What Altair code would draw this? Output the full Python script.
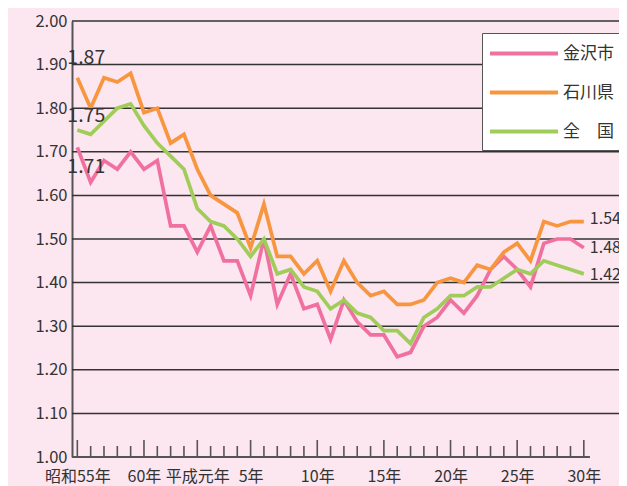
import altair as alt
import pandas as pd

years = list(range(1980, 2019))
kanazawa = [1.71, 1.63, 1.68, 1.66, 1.70, 1.66, 1.68, 1.53, 1.53, 1.47,
            1.53, 1.45, 1.45, 1.37, 1.50, 1.35, 1.42, 1.34, 1.35, 1.27,
            1.36, 1.31, 1.28, 1.28, 1.23, 1.24, 1.30, 1.32, 1.36, 1.33,
            1.37, 1.43, 1.46, 1.43, 1.39, 1.49, 1.50, 1.50, 1.48]
ishikawa = [1.87, 1.80, 1.87, 1.86, 1.88, 1.79, 1.80, 1.72, 1.74, 1.66,
            1.60, 1.58, 1.56, 1.48, 1.58, 1.46, 1.46, 1.42, 1.45, 1.38,
            1.45, 1.40, 1.37, 1.38, 1.35, 1.35, 1.36, 1.40, 1.41, 1.40,
            1.44, 1.43, 1.47, 1.49, 1.45, 1.54, 1.53, 1.54, 1.54]
national = [1.75, 1.74, 1.77, 1.80, 1.81, 1.76, 1.72, 1.69, 1.66, 1.57,
            1.54, 1.53, 1.50, 1.46, 1.50, 1.42, 1.43, 1.39, 1.38, 1.34,
            1.36, 1.33, 1.32, 1.29, 1.29, 1.26, 1.32, 1.34, 1.37, 1.37,
            1.39, 1.39, 1.41, 1.43, 1.42, 1.45, 1.44, 1.43, 1.42]

series_names = ["金沢市", "石川県", "全　国"]
series_colors = ["#f0719f", "#f7963f", "#a0cd5a"]

label_years = [1980, 1985, 1989, 1993, 1998, 2003, 2008, 2013, 2018]
label_texts = ["昭和55年", "60年", "平成元年", "5年", "10年", "15年", "20年", "25年", "30年"]
major_years = [1980, 1985, 1989, 1993, 1998, 2003, 2008, 2013, 2018]
y_ticks = [round(1.0 + 0.1 * i, 2) for i in range(11)]

FONT = "Noto Sans CJK JP"
TEXT = "#333333"

rows = []
for name, vals in zip(series_names, [kanazawa, ishikawa, national]):
    for y, v in zip(years, vals):
        rows.append({"year": y, "value": v, "series": name})
df = pd.DataFrame(rows)

order = {"全　国": 0, "石川県": 1, "金沢市": 2}
df["order"] = df["series"].map(order)

x_scale = alt.Scale(domain=[years[0] - 0.4, years[-1] + 2.64], nice=False, zero=False)
y_scale = alt.Scale(domain=[1.0, 2.0], nice=False, zero=False)

label_map = "{" + ",".join(f"'{y}':'{t}'" for y, t in zip(label_years, label_texts)) + "}"

x_axis = alt.Axis(values=label_years, labelExpr=f"{label_map}[datum.value]",
                  domain=False, ticks=False, grid=False, title=None,
                  labelFontSize=16, labelColor=TEXT, labelFont=FONT,
                  labelPadding=11, labelFlush=False, labelOverlap=False)
y_axis = alt.Axis(values=y_ticks, format=".2f", title=None,
                  ticks=False, domainColor="#555555", domainWidth=2,
                  grid=False,
                  labelFontSize=16.5, labelColor=TEXT, labelFont=FONT,
                  labelPadding=5)

# horizontal grid lines
grid_df = pd.DataFrame({"value": [v for v in y_ticks if v > 1.0]})
grid = alt.Chart(grid_df).mark_rule(color="#333333", strokeWidth=1.5).encode(
    y=alt.Y("value:Q", scale=y_scale, axis=y_axis))

lines = alt.Chart(df).mark_line(strokeWidth=3.7, strokeJoin="miter").encode(
    x=alt.X("year:Q", scale=x_scale, axis=x_axis),
    y=alt.Y("value:Q", scale=y_scale, axis=y_axis),
    color=alt.Color("series:N",
                    scale=alt.Scale(domain=series_names, range=series_colors),
                    legend=alt.Legend(title=None, orient="none", legendX=410, legendY=12,
                                      symbolType="M-1.47,0H6.53", symbolSize=289,
                                      symbolStrokeWidth=4, labelFontSize=17,
                                      labelFont=FONT, labelColor=TEXT,
                                      labelOffset=50, rowPadding=20, padding=10,
                                      fillColor="white", strokeColor="#555555")),
    order=alt.Order("order:Q"),
    detail="series:N",
)

# axis baseline and ticks
tick_df = pd.DataFrame({"year": years, "major": [y in major_years for y in years]})
base_df = pd.DataFrame({"x1": [years[0] - 0.4], "x2": [years[-1] + 0.46]})
baseline = alt.Chart(base_df).mark_rule(color="#555555", strokeWidth=2).encode(
    x=alt.X("x1:Q", scale=x_scale), x2="x2:Q",
    y=alt.datum(1.0))
minor_ticks = alt.Chart(tick_df).transform_filter("!datum.major").mark_rule(
    color="#555555", strokeWidth=1.6).encode(
    x=alt.X("year:Q", scale=x_scale), y=alt.datum(1.0),
    y2=alt.value(436 - 11))
major_ticks = alt.Chart(tick_df).transform_filter("datum.major").mark_rule(
    color="#555555", strokeWidth=1.6).encode(
    x=alt.X("year:Q", scale=x_scale), y=alt.datum(1.0),
    y2=alt.value(436 - 17))

def label_layer(name, yr, dx, dy, size):
    return alt.Chart(df).transform_filter(
        f"datum.series == '{name}' && datum.year == {yr}"
    ).mark_text(align="left", baseline="middle", dx=dx, dy=dy, fontSize=size,
                font=FONT, color=TEXT).encode(
        x=alt.X("year:Q", scale=x_scale),
        y=alt.Y("value:Q", scale=y_scale),
        text=alt.Text("value:Q", format=".2f"))

labels = [
    label_layer("石川県", years[0], -10, -20, 19.5),
    label_layer("全　国", years[0], -10, -14, 19.5),
    label_layer("金沢市", years[0], -10, 20, 19.5),
    label_layer("石川県", years[-1], 6, -3, 16),
    label_layer("金沢市", years[-1], 6, 0, 16),
    label_layer("全　国", years[-1], 6, 1, 16),
]

chart = alt.layer(grid, lines, baseline, minor_ticks, major_ticks, *labels).properties(
    width=547, height=436,
    autosize=alt.AutoSizeParams(type="none"),
    padding={"left": 64, "top": 13, "right": 0, "bottom": 29},
    background="#fce6ef",
).configure_view(stroke=None).configure_axis(grid=False)

chart.save("out.html", embed_options={"renderer": "svg", "actions": False})
